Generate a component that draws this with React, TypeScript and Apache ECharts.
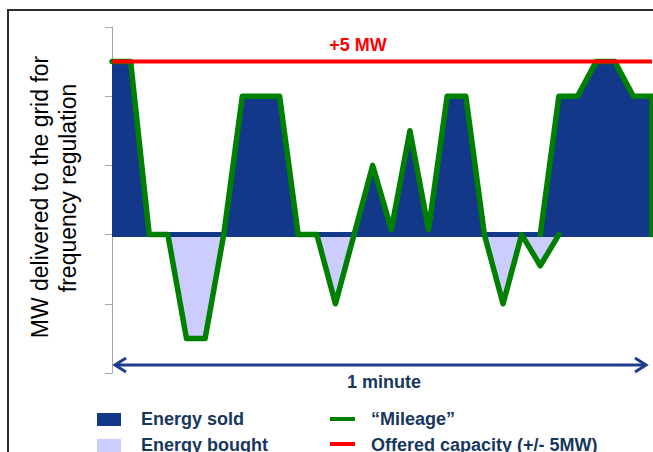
import React, { useEffect, useRef } from 'react';
import * as echarts from 'echarts';

// Time steps (equal intervals across the one-minute window) and MW values
const timeStepsA = [0, 1, 2, 3, 4, 5, 6, 7, 8, 9, 10, 11, 12, 13, 14, 15, 16, 17, 18, 19, 20, 21, 22, 23, 24];
const mileageMWA = [5, 5, 0, 0, -3, -3, 0, 4, 4, 4, 0, 0, -2, 0, 2, 0.15, 3, 0.15, 4, 4, 0, -2, 0, -0.9, 0];
const timeStepsB = [23, 24, 25, 26, 27, 28, 29, 29];
const mileageMWB = [0, 4, 4, 5, 5, 4, 4, 0];
const offeredCapacityMW = 5;
const yTicksMW = [-4, -2, 0, 2, 4, 6];
const xRange = [0, 29];

const NAVY = '#13388a';
const LAVENDER = '#ccccff';
const GREEN = '#008000';
const RED = '#ff0000';
const TEXT_NAVY = '#17375e';
const ARROW = '#1f3d8c';
const FONT = '"Liberation Sans", Arial, sans-serif';

export default function App() {
  const ref = useRef<HTMLDivElement>(null);

  useEffect(() => {
    if (!ref.current) return;
    const chart = echarts.init(ref.current, null, { renderer: 'svg' });
    const ptsA = timeStepsA.map((t, i) => [t, mileageMWA[i]]);
    const ptsB = timeStepsB.map((t, i) => [t, mileageMWB[i]]);
    const baseline = [[xRange[0], 0], [xRange[1], 0]];
    const capacity = [[xRange[0], offeredCapacityMW], [xRange[1], offeredCapacityMW]];
    const yMin = yTicksMW[0];
    const yMax = yTicksMW[yTicksMW.length - 1];
    const yInterval = yTicksMW[1] - yTicksMW[0];

    const legendText = (text: string, x: number, y: number) => ({
      type: 'text',
      x,
      y,
      style: { text, fill: TEXT_NAVY, font: `bold 18px ${FONT}`, align: 'left', verticalAlign: 'middle' },
    });

    chart.setOption({
      animation: false,
      grid: { left: 112, right: 1, top: 27, bottom: 79 },
      xAxis: { type: 'value', min: xRange[0], max: xRange[1], show: false },
      yAxis: {
        type: 'value',
        min: yMin,
        max: yMax,
        interval: yInterval,
        axisLine: { show: true, lineStyle: { color: '#a6a6a6', width: 1 } },
        axisTick: { show: true, inside: false, length: 7, lineStyle: { color: '#a6a6a6', width: 1 } },
        axisLabel: { show: false },
        splitLine: { show: false },
      },
      visualMap: {
        type: 'piecewise',
        show: false,
        dimension: 1,
        seriesIndex: [0, 1],
        pieces: [
          { gt: 0, lte: yMax, color: NAVY },
          { gte: yMin, lte: 0, color: LAVENDER },
        ],
      },
      series: [
        {
          name: 'Energy A',
          type: 'line',
          data: ptsA,
          symbol: 'none',
          lineStyle: { width: 0 },
          areaStyle: { opacity: 1 },
          silent: true,
        },
        {
          name: 'Energy B',
          type: 'line',
          data: ptsB,
          symbol: 'none',
          lineStyle: { width: 0 },
          areaStyle: { opacity: 1 },
          silent: true,
        },
        {
          name: 'Baseline',
          type: 'line',
          data: baseline,
          symbol: 'none',
          lineStyle: { width: 5, color: NAVY },
          silent: true,
        },
        {
          name: 'Mileage',
          type: 'line',
          data: ptsA,
          symbol: 'none',
          lineStyle: { width: 5.5, color: GREEN, join: 'round', cap: 'round' },
          silent: true,
        },
        {
          name: 'Mileage',
          type: 'line',
          data: ptsB,
          symbol: 'none',
          lineStyle: { width: 5.5, color: GREEN, join: 'round', cap: 'round' },
          silent: true,
        },
        {
          name: 'Offered capacity',
          type: 'line',
          data: capacity,
          symbol: 'none',
          lineStyle: { width: 4, color: RED },
          silent: true,
        },
      ],
      graphic: [
        {
          type: 'rect',
          z: -10,
          shape: { x: 8, y: 10, width: 800, height: 600 },
          style: { fill: 'none', stroke: '#2b2b2b', lineWidth: 2 },
        },
        {
          type: 'text',
          x: 40,
          y: 197,
          rotation: Math.PI / 2,
          style: { text: 'MW delivered to the grid for', fill: '#000', font: `23px ${FONT}`, align: 'center', verticalAlign: 'middle' },
        },
        {
          type: 'text',
          x: 68,
          y: 188,
          rotation: Math.PI / 2,
          style: { text: 'frequency regulation', fill: '#000', font: `23px ${FONT}`, align: 'center', verticalAlign: 'middle' },
        },
        {
          type: 'text',
          x: 358,
          y: 45,
          style: { text: '+5 MW', fill: RED, font: `bold 18px ${FONT}`, align: 'center', verticalAlign: 'middle' },
        },
        {
          type: 'line',
          shape: { x1: 116, y1: 365, x2: 644, y2: 365 },
          style: { stroke: ARROW, lineWidth: 3 },
        },
        {
          type: 'polyline',
          shape: { points: [[126, 358], [115, 365], [126, 372]] },
          style: { stroke: ARROW, lineWidth: 3, fill: 'none' },
        },
        {
          type: 'polyline',
          shape: { points: [[635, 358], [646, 365], [635, 372]] },
          style: { stroke: ARROW, lineWidth: 3, fill: 'none' },
        },
        {
          type: 'text',
          x: 384,
          y: 382,
          style: { text: '1 minute', fill: TEXT_NAVY, font: `bold 18px ${FONT}`, align: 'center', verticalAlign: 'middle' },
        },
        { type: 'rect', shape: { x: 97, y: 413, width: 24, height: 13 }, style: { fill: NAVY } },
        { type: 'rect', shape: { x: 97, y: 439, width: 24, height: 13 }, style: { fill: LAVENDER } },
        legendText('Energy sold', 141, 419),
        legendText('Energy bought', 141, 445),
        { type: 'line', shape: { x1: 330, y1: 419, x2: 355, y2: 419 }, style: { stroke: GREEN, lineWidth: 4 } },
        { type: 'line', shape: { x1: 330, y1: 444, x2: 355, y2: 444 }, style: { stroke: RED, lineWidth: 4 } },
        legendText('\u201cMileage\u201d', 371, 419),
        legendText('Offered capacity (+/- 5MW)', 371, 445),
      ],
    });

    return () => chart.dispose();
  }, []);

  return <div ref={ref} style={{ position: 'absolute', left: 0, top: 0, width: 653, height: 452 }} />;
}
